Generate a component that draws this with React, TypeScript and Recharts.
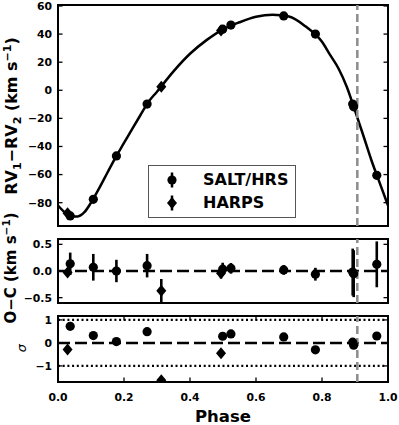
import {
  ComposedChart,
  ErrorBar,
  Legend,
  Line,
  ReferenceArea,
  ReferenceLine,
  Scatter,
  XAxis,
  YAxis,
} from "recharts";

const FONT = '"DejaVu Sans", Verdana, sans-serif';
const PLOT_W = 330;
const TICK_LEN = 4.5;

// model curve
const modelPhase = [
  0, 0.02, 0.04, 0.06, 0.08, 0.1, 0.125, 0.15, 0.175, 0.2, 0.225, 0.25, 0.275,
  0.3, 0.35, 0.4, 0.45, 0.5, 0.55, 0.6, 0.65, 0.7, 0.75, 0.8, 0.825, 0.85,
  0.875, 0.9, 0.925, 0.95, 0.975, 1.0,
];
const modelRv = [
  -82, -86.8, -89.6, -89.8, -86.8, -80, -69.6, -58.5, -47.5, -37.5, -27.4,
  -17.6, -8, -1, 13.5, 26, 35.7, 43.4, 48.4, 52.3, 53.8, 52.5, 45.5, 34.5, 25,
  15.5, 2.5, -14.5, -32, -50, -66, -82,
];

// SALT/HRS
const saltPhase = [0.037, 0.107, 0.177, 0.27, 0.499, 0.524, 0.684, 0.78, 0.893, 0.896, 0.966];
const saltRv = [-89.4, -77.6, -46.7, -9.8, 43.5, 46.4, 52.9, 40.0, -9.8, -11.8, -60.5];
const saltOmc = [0.135, 0.07, 0.0, 0.1, 0.035, 0.05, 0.02, -0.06, -0.02, -0.05, 0.125];
const saltErr = [0.21, 0.25, 0.21, 0.22, 0.12, 0.1, 0.09, 0.12, 0.44, 0.44, 0.43];
const saltSigma = [0.72, 0.32, 0.06, 0.49, 0.29, 0.39, 0.26, -0.3, 0.03, -0.1, 0.3];

// HARPS
const harpsPhase = [0.029, 0.313, 0.494];
const harpsRv = [-87.6, 2.5, 42.6];
const harpsOmc = [-0.03, -0.37, -0.04];
const harpsErr = [0.05, 0.22, 0.1];
const harpsSigma = [-0.29, -1.62, -0.45];

const conjunctionPhase = 0.907;

const phaseTicks = [0, 0.2, 0.4, 0.6, 0.8, 1.0];
const rvTicks = [-80, -60, -40, -20, 0, 20, 40, 60];
const omcTicks = [-0.5, 0, 0.5];
const sigmaTicks = [-1, 0, 1];

const rvDomain = [-96.6, 60.7];
const omcDomain = [-0.6, 0.6];
const sigmaDomain = [-1.7, 1.17];

const model = modelPhase.map((phase, i) => ({ phase, rv: modelRv[i] }));
const salt = saltPhase.map((phase, i) => ({
  phase,
  rv: saltRv[i],
  omc: saltOmc[i],
  err: saltErr[i],
  sigma: saltSigma[i],
}));
const harps = harpsPhase.map((phase, i) => ({
  phase,
  rv: harpsRv[i],
  omc: harpsOmc[i],
  err: harpsErr[i],
  sigma: harpsSigma[i],
}));

const minus = (s: string) => s.replace("-", "\u2212");

const circleShape = (p: any) => <circle cx={p.cx} cy={p.cy} r={4.6} fill="#000" />;
const diamondShape = (p: any) => (
  <polygon
    points={`${p.cx},${p.cy - 6} ${p.cx + 5},${p.cy} ${p.cx},${p.cy + 6} ${p.cx - 5},${p.cy}`}
    fill="#000"
  />
);

function xTick(plotHeight: number, labels: boolean) {
  return (p: any) => {
    const { x, y, payload } = p;
    return (
      <g>
        <line x1={x} x2={x} y1={y} y2={y - TICK_LEN} stroke="#000" strokeWidth={1.3} />
        <line
          x1={x}
          x2={x}
          y1={y - plotHeight}
          y2={y - plotHeight + TICK_LEN}
          stroke="#000"
          strokeWidth={1.3}
        />
        {labels ? (
          <text
            x={x}
            y={y + 18.8}
            textAnchor="middle"
            fontFamily={FONT}
            fontWeight="bold"
            fontSize={10.8}
            fill="#000"
          >
            {payload.value.toFixed(1)}
          </text>
        ) : null}
      </g>
    );
  };
}

function yTick(format: (v: number) => string) {
  return (p: any) => {
    const { x, y, payload } = p;
    return (
      <g>
        <line x1={x} x2={x + TICK_LEN} y1={y} y2={y} stroke="#000" strokeWidth={1.3} />
        <line
          x1={x + PLOT_W}
          x2={x + PLOT_W - TICK_LEN}
          y1={y}
          y2={y}
          stroke="#000"
          strokeWidth={1.3}
        />
        <text
          x={x - 6}
          y={y + 3.9}
          textAnchor="end"
          fontFamily={FONT}
          fontWeight="bold"
          fontSize={10.8}
          fill="#000"
        >
          {minus(format(payload.value))}
        </text>
      </g>
    );
  };
}

function LegendMarker({ diamond }: { diamond?: boolean }) {
  return (
    <svg width={14} height={18} style={{ display: "block" }}>
      <line x1={7} x2={7} y1={1.5} y2={16.5} stroke="#000" strokeWidth={2.5} />
      {diamond ? (
        <polygon points="7,3 12,9 7,15 2,9" fill="#000" />
      ) : (
        <circle cx={7} cy={9} r={4.6} fill="#000" />
      )}
    </svg>
  );
}

function LegendBox() {
  const row = {
    display: "flex",
    alignItems: "center",
    height: 23,
  } as const;
  return (
    <div
      style={{
        width: 148,
        height: 53,
        boxSizing: "border-box",
        border: "1.5px solid #555",
        background: "#fff",
        fontFamily: FONT,
        fontWeight: "bold",
        fontSize: 16,
        color: "#000",
        paddingTop: 2,
      }}
    >
      <div style={row}>
        <div style={{ width: 18, marginLeft: 16 }}>
          <LegendMarker />
        </div>
        <span style={{ marginLeft: 20 }}>SALT/HRS</span>
      </div>
      <div style={row}>
        <div style={{ width: 18, marginLeft: 16 }}>
          <LegendMarker diamond />
        </div>
        <span style={{ marginLeft: 20 }}>HARPS</span>
      </div>
    </div>
  );
}

export default function App() {
  return (
    <div
      style={{
        position: "absolute",
        left: 0,
        top: 0,
        width: 399,
        height: 425,
        background: "#fff",
      }}
    >
      <div style={{ position: "absolute", left: 0, top: 0 }}>
        <ComposedChart width={399} height={232} margin={{ top: 5, right: 11, bottom: 6, left: 0 }}>
          <XAxis
            type="number"
            dataKey="phase"
            domain={[0, 1]}
            ticks={phaseTicks}
            interval={0}
            allowDataOverflow
            height={0}
            axisLine={false}
            tickLine={false}
            tickSize={0}
            tickMargin={0}
            tick={xTick(221, false)}
          />
          <YAxis
            type="number"
            domain={rvDomain}
            ticks={rvTicks}
            interval={0}
            allowDataOverflow
            width={58}
            axisLine={false}
            tickLine={false}
            tickSize={0}
            tickMargin={0}
            tick={yTick((v) => String(v))}
            label={() => (
              <text
                transform="translate(17,116) rotate(-90)"
                textAnchor="middle"
                fontFamily={FONT}
                fontWeight="bold"
                fontSize={16}
                fill="#000"
              >
                RV<tspan dy={4} fontSize={11}>1</tspan>
                <tspan dy={-4}>{"\u2212"}RV</tspan>
                <tspan dy={4} fontSize={11}>2</tspan>
                <tspan dy={-4}> (km s</tspan>
                <tspan dy={-6} fontSize={11}>{"\u22121"}</tspan>
                <tspan dy={6}>)</tspan>
              </text>
            )}
          />
          <ReferenceArea
            x1={0}
            x2={1}
            y1={rvDomain[0]}
            y2={rvDomain[1]}
            fill="none"
            stroke="#000"
            strokeWidth={2}
            ifOverflow="visible"
          />
          <Line
            data={model}
            dataKey="rv"
            type="monotone"
            stroke="#000"
            strokeWidth={2.5}
            dot={false}
            isAnimationActive={false}
          />
          <Scatter
            data={salt}
            dataKey="rv"
            name="SALT/HRS"
            shape={circleShape}
            isAnimationActive={false}
          />
          <Scatter
            data={harps}
            dataKey="rv"
            name="HARPS"
            shape={diamondShape}
            isAnimationActive={false}
          />
          <ReferenceLine
            x={conjunctionPhase}
            stroke="#8c8c8c"
            strokeWidth={2.5}
            strokeDasharray="8 4"
          />
          <Legend
            layout="horizontal"
            verticalAlign="middle"
            align="center"
            content={() => <LegendBox />}
            wrapperStyle={{ left: 148, top: 165, width: 148, height: 53 }}
          />
        </ComposedChart>
      </div>

      <div style={{ position: "absolute", left: 0, top: 200 }}>
        <ComposedChart width={399} height={130} margin={{ top: 39, right: 11, bottom: 27, left: 0 }}>
          <XAxis
            type="number"
            dataKey="phase"
            domain={[0, 1]}
            ticks={phaseTicks}
            interval={0}
            allowDataOverflow
            height={0}
            axisLine={false}
            tickLine={false}
            tickSize={0}
            tickMargin={0}
            tick={xTick(64, false)}
          />
          <YAxis
            type="number"
            domain={omcDomain}
            ticks={omcTicks}
            interval={0}
            allowDataOverflow
            width={58}
            axisLine={false}
            tickLine={false}
            tickSize={0}
            tickMargin={0}
            tick={yTick((v) => v.toFixed(1))}
            label={() => (
              <text
                transform="translate(15.5,68) rotate(-90)"
                textAnchor="middle"
                fontFamily={FONT}
                fontWeight="bold"
                fontSize={15}
                fill="#000"
              >
                O{"\u2212"}C (km s
                <tspan dy={-5.5} fontSize={10.5}>{"\u22121"}</tspan>
                <tspan dy={5.5}>)</tspan>
              </text>
            )}
          />
          <ReferenceArea
            x1={0}
            x2={1}
            y1={omcDomain[0]}
            y2={omcDomain[1]}
            fill="none"
            stroke="#000"
            strokeWidth={2}
            ifOverflow="visible"
          />
          <ReferenceLine y={0} stroke="#000" strokeWidth={2.5} strokeDasharray="12 5" />
          <Scatter data={salt} dataKey="omc" shape={circleShape} isAnimationActive={false}>
            <ErrorBar dataKey="err" direction="y" width={0} stroke="#000" strokeWidth={2.6} />
          </Scatter>
          <Scatter data={harps} dataKey="omc" shape={diamondShape} isAnimationActive={false}>
            <ErrorBar dataKey="err" direction="y" width={0} stroke="#000" strokeWidth={2.6} />
          </Scatter>
          <ReferenceLine
            x={conjunctionPhase}
            stroke="#8c8c8c"
            strokeWidth={2.5}
            strokeDasharray="8 4"
          />
        </ComposedChart>
      </div>

      <div style={{ position: "absolute", left: 0, top: 310 }}>
        <ComposedChart width={399} height={115} margin={{ top: 6, right: 11, bottom: 0, left: 0 }}>
          <XAxis
            type="number"
            dataKey="phase"
            domain={[0, 1]}
            ticks={phaseTicks}
            interval={0}
            allowDataOverflow
            height={43}
            axisLine={false}
            tickLine={false}
            tickSize={0}
            tickMargin={0}
            tick={xTick(66, true)}
            label={(p: any) => {
              const vb = p.viewBox || { x: 58, y: 72, width: 330, height: 43 };
              return (
                <text
                  x={vb.x + vb.width / 2}
                  y={vb.y + vb.height - 3.5}
                  textAnchor="middle"
                  fontFamily={FONT}
                  fontWeight="bold"
                  fontSize={16.5}
                  fill="#000"
                >
                  Phase
                </text>
              );
            }}
          />
          <YAxis
            type="number"
            domain={sigmaDomain}
            ticks={sigmaTicks}
            interval={0}
            allowDataOverflow
            width={58}
            axisLine={false}
            tickLine={false}
            tickSize={0}
            tickMargin={0}
            tick={yTick((v) => String(v))}
            label={() => (
              <text
                transform="translate(25.5,38) rotate(-90)"
                textAnchor="middle"
                fontFamily={FONT}
                fontStyle="italic"
                fontSize={13}
                fill="#000"
              >
                σ
              </text>
            )}
          />
          <ReferenceArea
            x1={0}
            x2={1}
            y1={sigmaDomain[0]}
            y2={sigmaDomain[1]}
            fill="none"
            stroke="#000"
            strokeWidth={2}
            ifOverflow="visible"
          />
          <ReferenceLine y={1} stroke="#000" strokeWidth={2.2} strokeDasharray="2 2.7" />
          <ReferenceLine y={-1} stroke="#000" strokeWidth={2.2} strokeDasharray="2 2.7" />
          <ReferenceLine y={0} stroke="#000" strokeWidth={2.5} strokeDasharray="12 5" />
          <Scatter data={salt} dataKey="sigma" shape={circleShape} isAnimationActive={false} />
          <Scatter data={harps} dataKey="sigma" shape={diamondShape} isAnimationActive={false} />
          <ReferenceLine
            x={conjunctionPhase}
            stroke="#8c8c8c"
            strokeWidth={2.5}
            strokeDasharray="8 4"
          />
        </ComposedChart>
      </div>
    </div>
  );
}
